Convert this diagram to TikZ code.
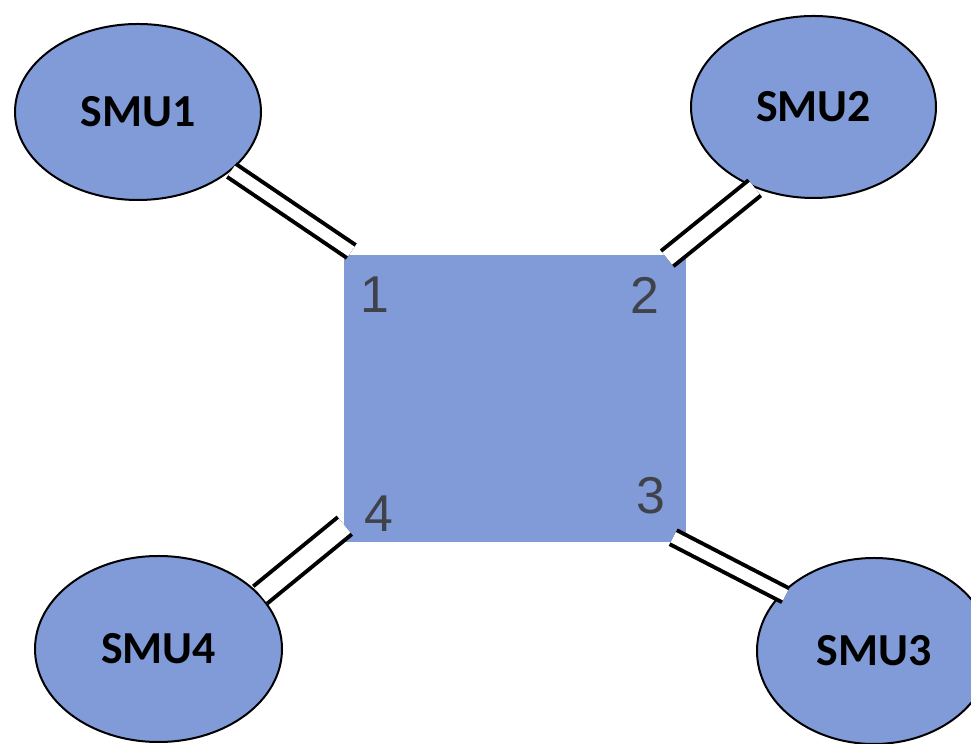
\documentclass[tikz,border=0pt]{standalone}
\usepackage{fontspec}
\setmainfont{Carlito}
\newfontfamily\portfont{Liberation Sans}
\usetikzlibrary{shapes.geometric,calc}

\definecolor{smublue}{RGB}{128,155,215}
\definecolor{portgray}{RGB}{64,66,74}

\tikzset{
  smu/.style={ellipse, draw, line width=2bp, fill=smublue, inner sep=0pt,
    font=\fontsize{46}{50}\selectfont\bfseries},
  port/.style={text=portgray, inner sep=0pt,
    font=\portfont\fontsize{52}{60}\selectfont},
  cable/.style={double, double distance=#1, line width=4bp},
  cable/.default=12bp
}

\begin{document}
\begin{tikzpicture}[x=1bp, y=1bp]
  \useasboundingbox (0,0) rectangle (971,744);
  % switch box and its port numbers
  \node[fill=smublue, minimum width=342bp, minimum height=287bp, inner sep=0pt] (box) at (515,345.5) {};
  \node[port] (n1) at (375,449) {1};
  \node[port] (n2) at (645,448.5) {2};
  \node[port] (n3) at (650.5,248.5) {3};
  \node[port] (n4) at (379,230) {4};

  % the four SMUs
  \node[smu, minimum width=246bp, minimum height=176bp] (smu1) at (138,632) {SMU1};
  \node[smu, minimum width=245bp, minimum height=182bp] (smu2) at (813.5,637) {SMU2};
  \node[smu, minimum width=234bp, minimum height=186bp] (smu3) at (874,93) {SMU3};
  \node[smu, minimum width=247bp, minimum height=186bp] (smu4) at (158.5,95) {SMU4};

  % cables between ports and SMUs
  \coordinate (p1) at ($(box.north west)+(7.5,3.3)$);
  \coordinate (p2) at ($(box.north east)+(-19,-3.8)$);
  \coordinate (p3) at ($(box.south east)+(-13,5)$);
  \coordinate (p4) at ($(box.south west)+(1,16.5)$);
  \draw[cable=11.5bp] (p1) -- (smu1.328);
  \draw[cable=15.5bp] (p2) -- (smu2.234);
  \draw[cable=11.5bp, shorten >=-5bp] (p3) -- (smu3.148);
  \draw[cable=18bp] (p4) -- (smu4.28);
\end{tikzpicture}
\end{document}
